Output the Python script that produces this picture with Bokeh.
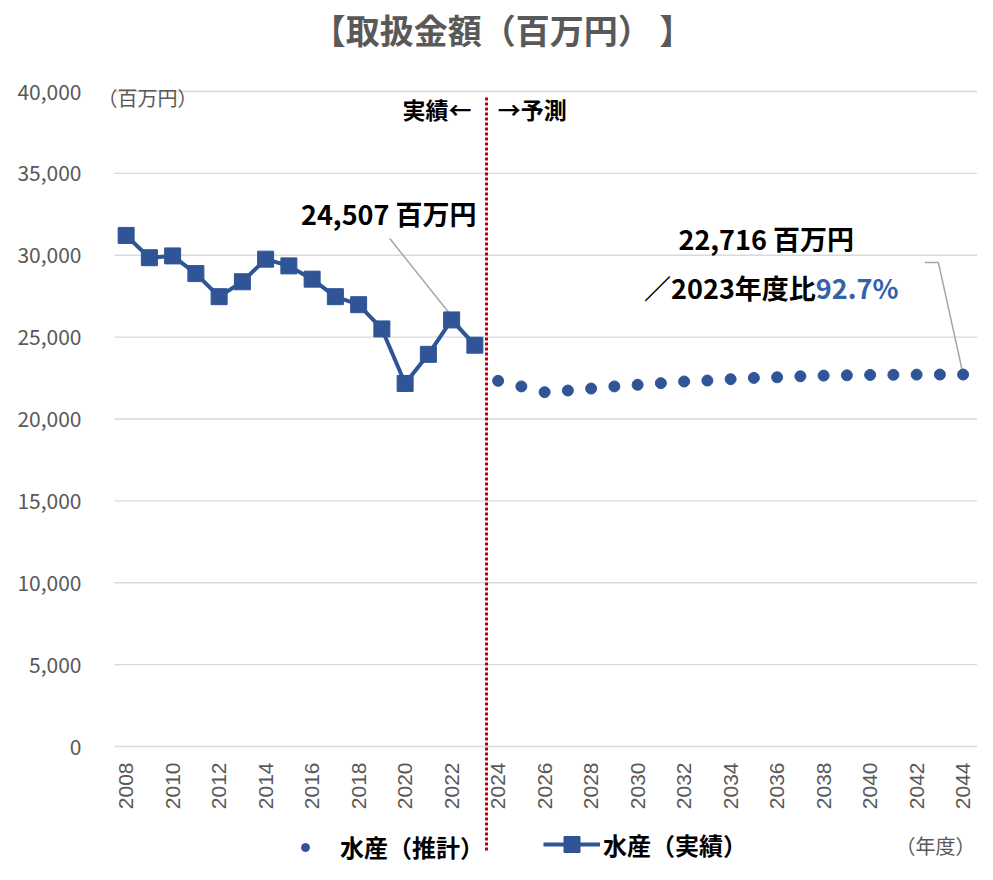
import math
from bokeh.plotting import figure
from bokeh.models import Range1d, FixedTicker, NumeralTickFormatter, Legend, LegendItem
from bokeh.core.properties import value
from bokeh.embed import file_html
from bokeh.resources import INLINE

# ---------------- data ----------------
actual_years = list(range(2008, 2024))
actual_values = [31210, 29850, 29960, 28880, 27470, 28380, 29760, 29350,
                 28540, 27470, 26980, 25500, 22170, 23950, 26050, 24507]
forecast_years = list(range(2024, 2045))
forecast_values = [22330, 21990, 21640, 21740, 21860, 21990, 22090, 22190,
                   22290, 22350, 22430, 22510, 22550, 22610, 22650, 22670,
                   22690, 22700, 22710, 22714, 22716]
tick_years = list(range(2008, 2045, 2))
tick_labels = [str(y) for y in tick_years]
y_ticks = list(range(0, 40001, 5000))

series_forecast = "水産（推計）"
series_actual = "水産（実績）"
title_text = "【取扱金額（百万円） 】"
unit_text = "（百万円）"
year_unit_text = "（年度）"

# ---------------- layout helpers ----------------
W, H = 977, 864
FRAME_LEFT = 96           # figure px of frame left edge
CAT_LEFT = 114            # figure px where the first category slot begins
PX_PER_YEAR = 23.25
Y0_PX, Y40_PX = 746, 91   # figure px of 0 and 40,000

x_start = 2007.5 - (CAT_LEFT - FRAME_LEFT) / PX_PER_YEAR
x_end = x_start + (W - FRAME_LEFT) / PX_PER_YEAR
upp = 40000 / (Y0_PX - Y40_PX)  # data units per pixel
y_start = -(H - Y0_PX) * upp
y_end = 40000 + Y40_PX * upp


def fig_x(px):
    """figure pixel -> data x"""
    return x_start + (px - FRAME_LEFT) / PX_PER_YEAR


def ref_x(px):
    """reference-picture pixel (2008 at 127, 23.9 px / year) -> data x"""
    return 2008 + (px - 127) / 23.9


def px_y(py):
    return (Y0_PX - py) * upp


BLUE = "#2F5597"
GRAY = "#595959"
JP = value("Noto Sans CJK JP")

p = figure(width=W, height=H, output_backend="svg", toolbar_location=None,
           x_range=Range1d(x_start, x_end), y_range=Range1d(y_start, y_end),
           x_axis_location=None, title_location=None,
           min_border_left=FRAME_LEFT, min_border_right=0,
           min_border_top=0, min_border_bottom=0)
p.outline_line_color = None
p.xgrid.grid_line_color = None
p.ygrid.grid_line_color = None
p.yaxis.ticker = FixedTicker(ticks=y_ticks)
p.yaxis.formatter = NumeralTickFormatter(format="0,0")
p.yaxis.axis_line_color = None
p.yaxis.major_tick_line_color = None
p.yaxis.minor_tick_line_color = None
p.yaxis.major_label_standoff = 9
p.yaxis.major_label_text_font = "Noto Sans CJK JP"
p.yaxis.major_label_text_font_size = "21px"
p.yaxis.major_label_text_color = GRAY

# horizontal grid lines at the value ticks, spanning the category area
p.segment(x0=[2007.5] * len(y_ticks), y0=y_ticks,
          x1=[x_end + 1] * len(y_ticks), y1=y_ticks,
          line_color="#D9D9D9", line_width=1.3)

# x tick labels (rotated), placed through the x scale
p.text(x=tick_years, y=[px_y(762)] * len(tick_years), text=tick_labels,
       angle=math.pi / 2, text_align="right", text_baseline="middle",
       text_font=value("Liberation Sans"), text_font_size="21px", text_color=GRAY)

# divider between actual and forecast
div_x = actual_years[-1] + 0.5
p.segment(x0=[div_x], y0=[px_y(97)], x1=[div_x], y1=[px_y(850)],
          line_color="#C00000", line_width=3, line_dash="3 2")

# leader lines
p.line(x=[ref_x(398), actual_years[-1]], y=[px_y(238), actual_values[-1]],
       line_color="#A6A6A6", line_width=1.5)
p.line(x=[ref_x(948), ref_x(962), forecast_years[-1]],
       y=[px_y(262), px_y(262), forecast_values[-1]],
       line_color="#A6A6A6", line_width=1.5)

# series
r_fc = p.scatter(forecast_years, forecast_values, marker="circle", size=11,
                 fill_color=BLUE, line_color=BLUE)
r_line = p.line(actual_years, actual_values, line_width=4, line_color=BLUE)
r_sq = p.scatter(actual_years, actual_values, marker="square", size=16,
                 fill_color=BLUE, line_color=BLUE)

# texts
p.text(x=[fig_x(502)], y=[px_y(29)], text=[title_text], text_align="center",
       text_baseline="middle", text_font=JP, text_font_size="34px",
       text_font_style="bold", text_color=GRAY)
p.text(x=[ref_x(482)], y=[px_y(108)], text=["実績←"], text_align="right",
       text_baseline="middle", text_font=JP, text_font_size="23px",
       text_font_style="bold", text_color="black")
p.text(x=[ref_x(509)], y=[px_y(108)], text=["→予測"], text_align="left",
       text_baseline="middle", text_font=JP, text_font_size="23px",
       text_font_style="bold", text_color="black")

last_actual = actual_values[-1]
last_fc = forecast_values[-1]
ratio = last_fc / last_actual * 100
p.text(x=[ref_x(397)], y=[px_y(213)], text=[f"{last_actual:,} 百万円"],
       text_align="center", text_baseline="middle", text_font=JP,
       text_font_size="27px", text_font_style="bold", text_color="black")
p.text(x=[ref_x(785)], y=[px_y(238)], text=[f"{last_fc:,} 百万円"],
       text_align="center", text_baseline="middle", text_font=JP,
       text_font_size="27px", text_font_style="bold", text_color="black")
p.text(x=[ref_x(836)], y=[px_y(287)], text=[f"／{actual_years[-1]}年度比"],
       text_align="right", text_baseline="middle", text_font=JP,
       text_font_size="27px", text_font_style="bold", text_color="black")
p.text(x=[ref_x(836)], y=[px_y(287)], text=[f"{ratio:.1f}%"],
       text_align="left", text_baseline="middle", text_font=JP,
       text_font_size="27px", text_font_style="bold", text_color="#3461AA")

p.text(x=[fig_x(97)], y=[px_y(97)], text=[unit_text], text_align="left",
       text_baseline="middle", text_font=JP, text_font_size="20px", text_color=GRAY)
p.text(x=[fig_x(975)], y=[px_y(845)], text=[year_unit_text], text_align="right",
       text_baseline="middle", text_font=JP, text_font_size="20px", text_color=GRAY)

# legends
common = dict(orientation="horizontal", padding=0, margin=0, spacing=0,
              border_line_color=None, background_fill_alpha=0,
              label_text_font="Noto Sans CJK JP", label_text_font_size="24px",
              label_text_font_style="bold", label_text_color="black",
              label_text_baseline="middle")
leg1 = Legend(items=[LegendItem(label=series_forecast, renderers=[r_fc])],
              location=(295 - FRAME_LEFT, 0), glyph_width=20, glyph_height=20,
              label_standoff=25, **common)
leg2 = Legend(items=[LegendItem(label=series_actual, renderers=[r_line, r_sq])],
              location=(543 - FRAME_LEFT, 0), glyph_width=57, glyph_height=40,
              label_standoff=3, **common)
p.add_layout(leg1)
p.add_layout(leg2)

open("out.html", "w").write(file_html(p, INLINE))
